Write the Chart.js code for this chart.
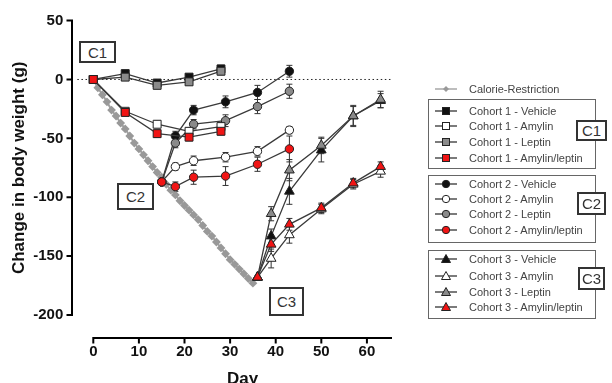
<!DOCTYPE html>
<html>
<head>
<meta charset="utf-8">
<script src="https://cdn.jsdelivr.net/npm/chart.js@4.4.1/dist/chart.umd.min.js"></script>
<style>
body{margin:0;background:#fff;font-family:"Liberation Sans",Arial,sans-serif;}
#wrap{position:relative;width:612px;height:383px;overflow:hidden;}
canvas{position:absolute;left:0;top:0;}
.tag{position:absolute;border:2px solid #333;background:#fff;font-size:15px;color:#333;display:flex;align-items:center;justify-content:center;box-sizing:border-box;}
.box{position:absolute;border:1.5px solid #666;box-sizing:border-box;}
.row{position:absolute;left:434px;height:14px;font-size:11px;color:#444;display:flex;align-items:center;white-space:nowrap;}
.row svg{margin-right:11px;}
</style>
</head>
<body>
<div id="wrap">
<canvas id="weightChart" width="612" height="383"></canvas>

<div class="tag" style="left:79px;top:41px;width:37px;height:22px">C1</div>
<div class="tag" style="left:117px;top:183px;width:37px;height:27px">C2</div>
<div class="tag" style="left:269px;top:287px;width:35px;height:29px">C3</div>

<div class="box" style="left:428px;top:99px;width:168px;height:70px"></div>
<div class="box" style="left:428px;top:175px;width:168px;height:68px"></div>
<div class="box" style="left:428px;top:250px;width:168px;height:69px"></div>
<div class="tag" style="left:576px;top:120px;width:31px;height:21px">C1</div>
<div class="tag" style="left:577px;top:192px;width:29px;height:23px">C2</div>
<div class="tag" style="left:578px;top:267px;width:27px;height:23px">C3</div>
<div id="legend"></div>
</div>

<script>
// calorie restriction arm, daily
const crDays = [0,1,2,3,4,5,6,7,8,9,10,11,12,13,14,15,16,17,18,19,20,21,22,23,24,25,26,27,28,29,30,31,32,33,34,35];
const crWeight = [0,-7,-13,-19,-26,-31,-37,-42,-48,-54,-59,-64,-69,-74,-79,-83,-89,-94,-98,-103,-107,-111,-115,-119,-124,-129,-133,-138,-143,-148,-153,-157,-161,-165,-169,-173];

// cohort 1
const c1Days = [0,7,14,21,28];
const c1Vehicle = [0,5,-3,2,9];
const c1Amylin = [0,-27,-38,-44,-40];
const c1Leptin = [0,2,-5,-2,7];
const c1AmyLep = [0,-28,-46,-49,-44];
const c1VehicleErr = [0,2,2,2,3];
const c1AmylinErr = [0,2,3,3,3];
const c1LeptinErr = [0,2,2,2,3];
const c1AmyLepErr = [0,2,3,3,3];

// cohort 2
const c2Days = [15,18,22,29,36,43];
const c2Vehicle = [-87,-48,-26,-19,-11,7];
const c2Amylin = [-87,-74,-69,-66,-61,-43];
const c2Leptin = [-87,-54,-38,-35,-23,-10];
const c2AmyLep = [-87,-91,-83,-82,-72,-59];
const c2VehicleErr = [0,4,4,5,6,5];
const c2AmylinErr = [0,3,4,4,4,3];
const c2LeptinErr = [0,4,4,5,6,6];
const c2AmyLepErr = [0,4,6,8,6,11];

// cohort 3
const c3Days = [36,39,43,50,57,63];
const c3Vehicle = [-168,-133,-95,-60,-31,-18];
const c3Amylin = [-168,-152,-132,-110,-89,-78];
const c3Leptin = [-168,-114,-77,-56,-31,-17];
const c3AmyLep = [-168,-140,-123,-109,-88,-74];
const c3VehicleErr = [0,6,11,10,8,6];
const c3AmylinErr = [0,8,7,4,4,5];
const c3LeptinErr = [0,6,9,7,9,7];
const c3AmyLepErr = [0,6,5,4,4,4];

const xTicks = [0,10,20,30,40,50,60];

const BLACK = "#111", WHITE = "#fff", GREY = "#8a8a8a", RED = "#f01414";

function cohort(label, days, values, errors, shape, fill, order){
  return {
    label: label,
    data: days.map((d,i)=>({x:d,y:values[i]})),
    err: errors,
    showLine: true,
    borderColor: "#3a3a3a",
    borderWidth: 1.3,
    pointStyle: shape,
    pointRadius: shape=="rect" ? 5.6 : (shape=="triangle" ? 5.6 : 4.2),
    pointBackgroundColor: fill,
    pointBorderColor: "#222",
    pointBorderWidth: 1,
    order: order,
    clip: false
  };
}

const datasets = [
  {
    label: "Calorie-Restriction",
    data: crDays.map((d,i)=>({x:d,y:crWeight[i]})),
    showLine: true,
    borderColor: "#a0a0a0",
    borderWidth: 2,
    pointStyle: "rectRot",
    pointRadius: 3,
    pointBackgroundColor: "#999",
    pointBorderColor: "#999",
    order: 30,
    clip: false
  },
  cohort("Cohort 1 - Vehicle", c1Days, c1Vehicle, c1VehicleErr, "rect", BLACK, 6),
  cohort("Cohort 1 - Amylin", c1Days, c1Amylin, c1AmylinErr, "rect", WHITE, 4),
  cohort("Cohort 1 - Leptin", c1Days, c1Leptin, c1LeptinErr, "rect", GREY, 5),
  cohort("Cohort 1 - Amylin/leptin", c1Days, c1AmyLep, c1AmyLepErr, "rect", RED, 1),
  cohort("Cohort 2 - Vehicle", c2Days, c2Vehicle, c2VehicleErr, "circle", BLACK, 6),
  cohort("Cohort 2 - Amylin", c2Days, c2Amylin, c2AmylinErr, "circle", WHITE, 4),
  cohort("Cohort 2 - Leptin", c2Days, c2Leptin, c2LeptinErr, "circle", GREY, 5),
  cohort("Cohort 2 - Amylin/leptin", c2Days, c2AmyLep, c2AmyLepErr, "circle", RED, 1),
  cohort("Cohort 3 - Vehicle", c3Days, c3Vehicle, c3VehicleErr, "triangle", BLACK, 6),
  cohort("Cohort 3 - Amylin", c3Days, c3Amylin, c3AmylinErr, "triangle", WHITE, 4),
  cohort("Cohort 3 - Leptin", c3Days, c3Leptin, c3LeptinErr, "triangle", GREY, 5),
  cohort("Cohort 3 - Amylin/leptin", c3Days, c3AmyLep, c3AmyLepErr, "triangle", RED, 1)
];

// prism-style detached axes, dotted zero line, error bars
const prismAxes = {
  id: "prismAxes",
  beforeDatasetsDraw(chart){
    const {ctx, scales:{x,y}} = chart;
    ctx.save();

    ctx.strokeStyle = "#222";
    ctx.lineWidth = 1;
    ctx.setLineDash([1.5,2.6]);
    ctx.beginPath();
    ctx.moveTo(x.getPixelForValue(-3.5), y.getPixelForValue(0));
    ctx.lineTo(x.getPixelForValue(65.5), y.getPixelForValue(0));
    ctx.stroke();
    ctx.setLineDash([]);

    ctx.strokeStyle = "#333";
    chart.data.datasets.forEach(ds=>{
      if(!ds.err) return;
      ds.data.forEach((p,j)=>{
        const e = ds.err[j];
        if(!e) return;
        const px = x.getPixelForValue(p.x);
        const t = y.getPixelForValue(p.y+e), b = y.getPixelForValue(p.y-e);
        ctx.beginPath();
        ctx.moveTo(px,t); ctx.lineTo(px,b);
        ctx.moveTo(px-3,t); ctx.lineTo(px+3,t);
        ctx.moveTo(px-3,b); ctx.lineTo(px+3,b);
        ctx.stroke();
      });
    });

    ctx.strokeStyle = "#000";
    ctx.lineWidth = 2;
    const ax = x.left - 21.3;
    ctx.beginPath();
    ctx.moveTo(ax, y.getPixelForValue(50)-1);
    ctx.lineTo(ax, y.getPixelForValue(-200)+1);
    y.ticks.forEach(t=>{
      const py = y.getPixelForValue(t.value);
      ctx.moveTo(ax-5.5, py); ctx.lineTo(ax, py);
    });
    const ay = y.getPixelForValue(-200) + 23;
    ctx.moveTo(x.getPixelForValue(0)-1, ay);
    ctx.lineTo(x.getPixelForValue(65.5), ay);
    xTicks.forEach(v=>{
      const px = x.getPixelForValue(v);
      ctx.moveTo(px, ay); ctx.lineTo(px, ay+5.5);
    });
    ctx.stroke();
    ctx.restore();
  }
};

const tickFont = {family:"'Liberation Sans', Arial, sans-serif", size:15, weight:"bold"};
const titleFont = {family:"'Liberation Sans', Arial, sans-serif", size:17, weight:"bold"};

new Chart(document.getElementById("weightChart"),{
  type: "scatter",
  data: {datasets: datasets},
  options: {
    responsive: false,
    animation: false,
    layout: {padding:{top:20.6, right:220, bottom:0, left:0}},
    plugins: {legend:{display:false}, tooltip:{enabled:false}},
    scales: {
      x: {
        type: "linear",
        min: 0,
        max: 65.5,
        grid: {display:false, drawTicks:false},
        border: {display:false},
        afterBuildTicks: s=>{ s.ticks = xTicks.map(v=>({value:v})); },
        afterFit: s=>{ s.height = 68; s.paddingLeft = 0; s.paddingRight = 0; },
        ticks: {color:"#111", font:tickFont, padding:28},
        title: {display:true, text:"Day", color:"#111", font:titleFont, padding:{top:0,bottom:-7}}
      },
      y: {
        min: -200,
        max: 50,
        grid: {display:false, drawTicks:false},
        border: {display:false},
        afterFit: s=>{ s.width = 93.3; s.paddingTop = 0; s.paddingBottom = 0; },
        ticks: {stepSize:50, color:"#111", font:tickFont, padding:30},
        title: {display:true, text:"Change in body weight (g)", color:"#111", font:titleFont, padding:{top:8.8,bottom:0}}
      }
    }
  },
  plugins: [prismAxes]
});

// grouped legend on the right
const legendTop = [82,104,119,135,151,177,192,207,223,252,269,285,300];
const markerSvg = {
  rectRot: '<polygon points="12,4 15,7 12,10 9,7" fill="#999"/>',
  rect: '<rect x="8.5" y="3.5" width="7" height="7" stroke="#222" stroke-width="1" fill="FILL"/>',
  circle: '<circle cx="12" cy="7" r="3.7" stroke="#222" stroke-width="1" fill="FILL"/>',
  triangle: '<polygon points="12,2.5 16.5,10.5 7.5,10.5" stroke="#222" stroke-width="1" fill="FILL"/>'
};
document.getElementById("legend").innerHTML = datasets.map((ds,i)=>{
  const stroke = i==0 ? "#999" : "#333";
  const shape = markerSvg[ds.pointStyle].replace("FILL", ds.pointBackgroundColor);
  return '<div class="row" style="top:'+legendTop[i]+'px"><svg width="24" height="14">' +
    '<line x1="1" y1="7" x2="23" y2="7" stroke="'+stroke+'" stroke-width="1.3"/>' + shape +
    '</svg>' + ds.label + '</div>';
}).join("");
</script>
</body>
</html>
